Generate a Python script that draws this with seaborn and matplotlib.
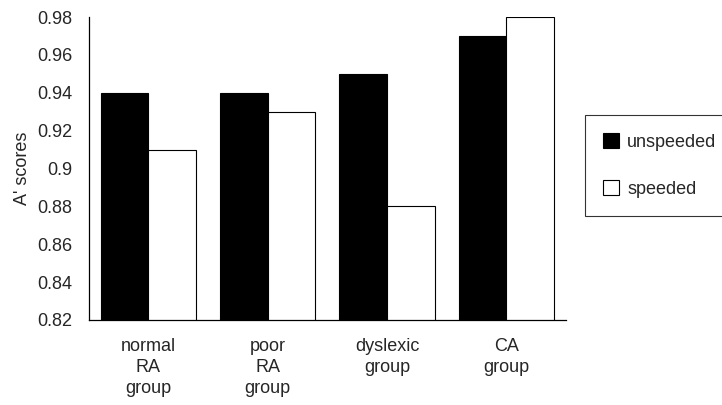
import numpy as np
import pandas as pd
import matplotlib
matplotlib.use("Agg")
import matplotlib.pyplot as plt
import seaborn as sns

groups = ["normal\nRA\ngroup", "poor\nRA\ngroup", "dyslexic\ngroup", "CA\ngroup"]
conditions = ["unspeeded", "speeded"]
unspeeded = [0.94, 0.94, 0.95, 0.97]
speeded = [0.91, 0.93, 0.88, 0.98]
y_ticks = [0.82, 0.84, 0.86, 0.88, 0.9, 0.92, 0.94, 0.96, 0.98]
y_tick_labels = ["0.82", "0.84", "0.86", "0.88", "0.9", "0.92", "0.94", "0.96", "0.98"]

df = pd.DataFrame({
    "group": groups * 2,
    "condition": [conditions[0]] * 4 + [conditions[1]] * 4,
    "score": unspeeded + speeded,
})

sns.set_style("white")
plt.rcParams["font.family"] = ["Liberation Sans", "DejaVu Sans"]
fs = 13

fig = plt.figure(figsize=(7.22, 4.05), dpi=100)
ax = fig.add_axes([0.123, 0.21, 0.661, 0.748])

sns.barplot(data=df, x="group", y="score", hue="condition", order=groups,
            hue_order=conditions, palette=["black", "white"], edgecolor="black",
            linewidth=0.8, width=0.8, ax=ax, legend=True)

# bars start at the axis floor
ax.set_ylim(0.82, 0.98)
ax.set_xlim(-0.5, 3.5)
ax.set_yticks(y_ticks)
ax.set_yticklabels(y_tick_labels, fontsize=fs)
ax.set_xticks(np.arange(-0.5, 4.0, 1.0))
ax.set_xticklabels([])
ax.set_xticks(range(len(groups)), minor=True)
ax.set_xticklabels(groups, minor=True, fontsize=fs, linespacing=1.3)
ax.tick_params(axis="x", which="minor", length=0, pad=13)
ax.tick_params(axis="x", which="major", direction="inout", length=6, width=0.8)
ax.tick_params(axis="y", direction="inout", length=6, width=0.8, pad=9)
ax.set_xlabel("")
ax.set_ylabel("A' scores", fontsize=fs, labelpad=4)

for side in ["top", "right"]:
    ax.spines[side].set_visible(False)
for side in ["left", "bottom"]:
    ax.spines[side].set_color("black")
    ax.spines[side].set_linewidth(0.9)

handles, labels = ax.get_legend_handles_labels()
ax.legend(handles, labels, loc="center left", bbox_to_anchor=(1.02, 0.51),
          frameon=True, fancybox=False, edgecolor="black", fontsize=fs,
          handlelength=0.9, handleheight=0.85, labelspacing=1.65,
          borderpad=1.0, handletextpad=0.45)
ax.get_legend().get_frame().set_linewidth(0.8)

fig.savefig("out.png", dpi=100)
